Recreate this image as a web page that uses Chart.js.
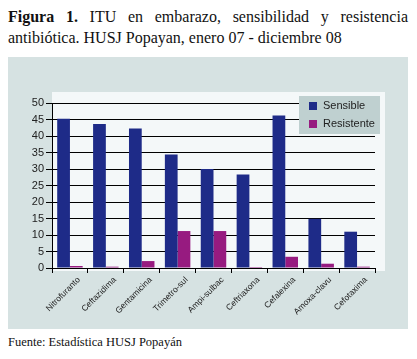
<!DOCTYPE html>
<html>
<head>
<meta charset="utf-8">
<script src="https://cdn.jsdelivr.net/npm/chart.js@4.4.1/dist/chart.umd.min.js"></script>
<style>
  body { margin: 0; background: #fff; width: 417px; height: 359px; overflow: hidden; }
  #titulo { position: absolute; left: 8px; top: 6px; width: 400px; font-family: "Liberation Serif", serif; font-size: 16px; line-height: 21px; color: #111; text-align: justify; text-align-last: left; }
  #panel { position: absolute; left: 8px; top: 57px; width: 400px; height: 272px; background: #d6e2e2; }
  #fuente { position: absolute; left: 8px; top: 335px; font-family: "Liberation Serif", serif; font-size: 12.5px; color: #111; }
</style>
</head>
<body>
<div id="titulo"><b>Figura 1.</b> ITU en embarazo, sensibilidad y resistencia antibiótica. HUSJ Popayan, enero 07 - diciembre 08</div>
<div id="panel"><canvas id="grafico" width="400" height="272"></canvas></div>
<div id="fuente">Fuente: Estadística HUSJ Popayán</div>
<script>
// Dados
const antibioticos = ['Nitrofuranto', 'Ceftazidima', 'Gentamicina', 'Trimetro-sul', 'Ampi-sulbac', 'Ceftriaxona', 'Cefalexina', 'Amoxa-clavu', 'Cefotaxima'];
const sensible = [45.2, 43.6, 42.3, 34.4, 30.0, 28.3, 46.2, 14.9, 11.0];
const resistente = [0.6, 0.4, 2.1, 11.2, 11.2, 0.3, 3.4, 1.3, 0.4];
const ticksY = [0, 5, 10, 15, 20, 25, 30, 35, 40, 45, 50];

// fundo claro da área do gráfico e legenda
const fundoPlugin = {
  id: 'fundo',
  beforeDraw(chart) {
    const ctx = chart.ctx;
    const a = chart.chartArea;
    ctx.save();
    ctx.fillStyle = '#f4f8f9';
    ctx.fillRect(a.left, a.top - 11, a.right - a.left + 10, a.bottom - a.top + 14);
    ctx.restore();
  },
  afterDraw(chart) {
    const ctx = chart.ctx;
    const a = chart.chartArea;
    const x = a.right - 76, y = a.top - 7;
    ctx.save();
    ctx.fillStyle = '#bfd0d0';
    ctx.fillRect(x, y, 81, 38);
    ctx.font = '11px "Liberation Sans", Arial, sans-serif';
    ctx.textBaseline = 'middle';
    chart.data.datasets.forEach((ds, i) => {
      ctx.fillStyle = ds.backgroundColor;
      ctx.fillRect(x + 10, y + 6 + i * 18, 8, 8);
      ctx.fillStyle = '#222';
      ctx.fillText(ds.label, x + 24, y + 10 + i * 18);
    });
    ctx.restore();
  }
};

const ctx = document.getElementById('grafico').getContext('2d');
const meuGrafico = new Chart(ctx, {
  type: 'bar',
  data: {
    labels: antibioticos,
    datasets: [
      { label: 'Sensible', data: sensible, backgroundColor: '#1e2b88' },
      { label: 'Resistente', data: resistente, backgroundColor: '#971b80' }
    ]
  },
  options: {
    responsive: false,
    animation: false,
    layout: { padding: { top: 46, right: 33, left: 0, bottom: 0 } },
    plugins: { legend: { display: false }, tooltip: { enabled: false } },
    datasets: { bar: { categoryPercentage: 0.71, barPercentage: 1 } },
    scales: {
      y: {
        min: 0, max: 50,
        afterFit(scale) { scale.width = 44; },
        afterBuildTicks(scale) { scale.ticks = ticksY.map(v => ({ value: v })); },
        grid: { color: '#000', lineWidth: 1, tickLength: 6, drawTicks: true },
        border: { color: '#000' },
        ticks: { color: '#222', padding: 2, font: { family: '"Liberation Sans", Arial, sans-serif', size: 11 } }
      },
      x: {
        afterFit(scale) { scale.height = 61; },
        grid: { drawOnChartArea: false, color: '#000', tickLength: 5, offset: true },
        border: { color: '#000' },
        ticks: { color: '#222', minRotation: 45, maxRotation: 45, padding: 2, labelOffset: 9, font: { family: '"Liberation Sans", Arial, sans-serif', size: 8.5 } }
      }
    }
  },
  plugins: [fundoPlugin]
});
</script>
</body>
</html>
